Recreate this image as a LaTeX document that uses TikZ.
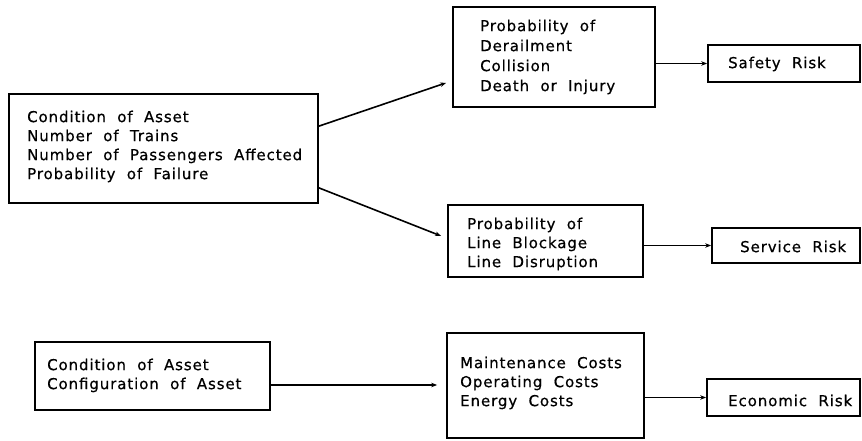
\documentclass[tikz,border=0pt]{standalone}
\usepackage{fontspec}
\setmainfont{DejaVu Sans}[LetterSpace=6, WordSpace=2, FakeBold=0.6]
\usetikzlibrary{arrows.meta,calc}
\begin{document}
\begin{tikzpicture}[x=1pt,y=-1pt,
  box/.style={draw, line width=1.7pt, inner sep=0pt},
  txt/.style={anchor=north west, inner sep=0pt, align=left,
              font=\fontsize{15}{19}\selectfont},
  link/.style={line width=1.6pt, -{Stealth[length=6pt,width=4.5pt]}}]
\useasboundingbox (0,0) rectangle (862,441);

% boxes
\node[box, minimum width=309pt, minimum height=109pt] (cond)    at (163.5,148.5) {};
\node[box, minimum width=202pt, minimum height=100pt] (prob)    at (554,57) {};
\node[box, minimum width=152pt, minimum height=37pt]  (safety)  at (784,63.5) {};
\node[box, minimum width=195pt, minimum height=72pt]  (block)   at (545.5,241) {};
\node[box, minimum width=148pt, minimum height=35pt]  (service) at (786,245.5) {};
\node[box, minimum width=235pt, minimum height=68pt]  (asset)   at (152.5,376) {};
\node[box, minimum width=197pt, minimum height=105pt] (costs)   at (545.5,385.5) {};
\node[box, minimum width=153pt, minimum height=37pt]  (econ)    at (783.5,397.5) {};

% texts
\node[txt] (condtxt) at (27,110.5) {Condition of Asset\\Number of Trains\\Number of Passengers Affected\\Probability of Failure};
\node[txt] (probtxt) at (480,19.5) {Probability of\\[1pt]Derailment\\[1pt]Collision\\[1pt]Death or Injury};
\node[txt] (safetytxt) at (728,56.5) {Safety Risk};
\node[txt] (blocktxt) at (467,217.5) {Probability of\\Line Blockage\\Line Disruption};
\node[txt] (servicetxt) at (740,240.5) {Service Risk};
\node[txt] (assettxt) at (47,358.5) {Condition of Asset\\Configuration of Asset};
\node[txt] (coststxt) at (460,356.5) {Maintenance Costs\\Operating Costs\\Energy Costs};
\node[txt] (econtxt) at (728,394.5) {Economic Risk};

% connectors
\draw[link] ($(cond.north east)+(0,33)$) -- ($(prob.south west)+(-6,-25)$);
\draw[link] ($(cond.south east)+(0,-16)$) -- ($(block.west)+(-6,-5)$);
\draw[link] (prob.east |- safety.west) -- (safety.west);
\draw[link] (block.east |- service.west) -- (service.west);
\draw[link] ($(asset.east)+(0,9)$) -- ($(costs.west)+(-9,-0.5)$);
\draw[link] (costs.east |- econ.west) -- (econ.west);
\end{tikzpicture}
\end{document}
